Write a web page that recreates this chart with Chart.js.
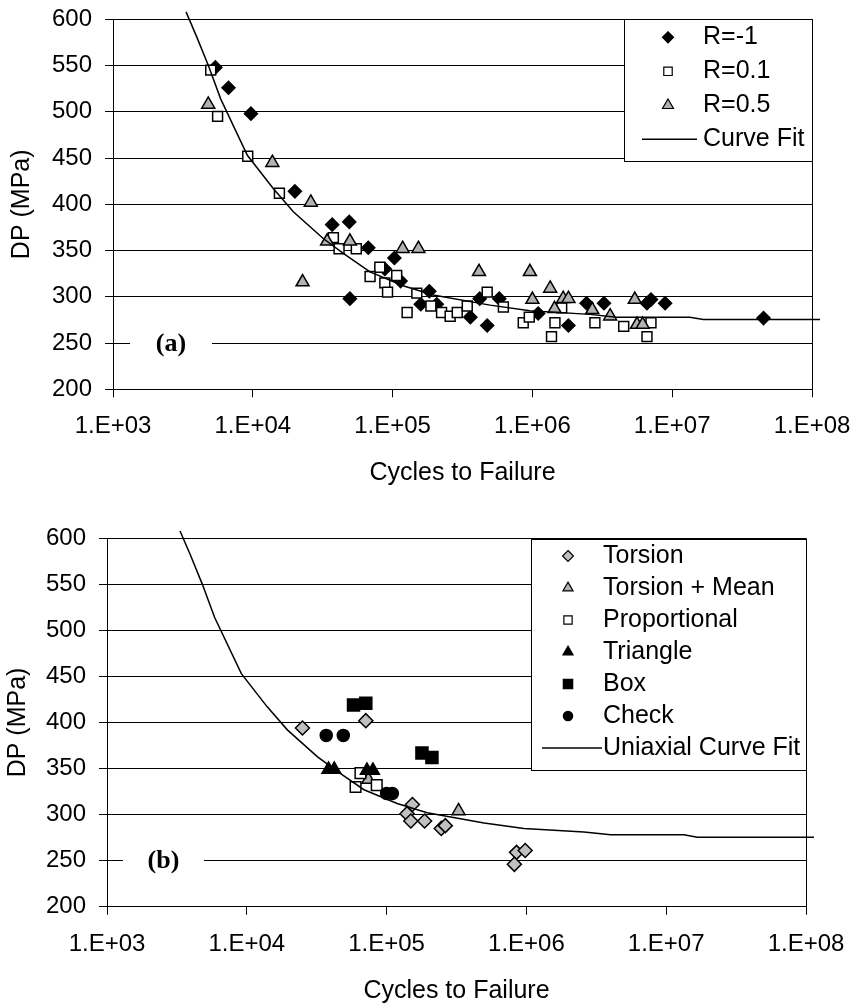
<!DOCTYPE html>
<html>
<head>
<meta charset="utf-8">
<script src="https://cdn.jsdelivr.net/npm/chart.js@4.4.1/dist/chart.umd.min.js"></script>
<style>
  html, body { margin: 0; padding: 0; background: #fff; overflow: hidden; }
  .panel { position: absolute; left: 0; width: 856px; }
  #top { top: 0; height: 500px; }
  #bottom { top: 519px; height: 487px; }
</style>
</head>
<body>
<div class="panel" id="top"><canvas id="chartA"></canvas></div>
<div class="panel" id="bottom"><canvas id="chartB"></canvas></div>
<script>
// --- values: N = cycles to failure, DP in MPa ---
const xTicks = [1e3, 1e4, 1e5, 1e6, 1e7, 1e8];

// (a) uniaxial tests
const rm1N  = [5.4e3, 6.7e3, 9.7e3, 2.0e4, 3.7e4, 4.9e4, 6.7e4, 1.03e5, 8.8e4, 1.14e5, 4.95e4, 1.83e5, 1.59e5,
               2.07e5, 3.6e5, 4.75e5, 4.2e5, 5.8e5, 1.10e6, 1.81e6, 2.44e6, 3.25e6, 6.6e6, 7.05e6, 8.9e6, 4.5e7];
const rm1DP = [548, 526, 498, 414, 378, 381, 353, 342, 330, 317, 298, 306, 292,
               292, 278, 269, 298, 298, 282, 269, 293, 293, 293, 297, 293, 277];

const r01N  = [5.0e3, 5.6e3, 9.2e3, 1.55e4, 3.77e4, 4.14e4, 5.5e4, 8.1e4, 6.9e4, 1.07e5, 8.8e4, 9.2e4, 1.49e5, 1.27e5,
               1.88e5, 2.24e5, 2.58e5, 2.9e5, 3.42e5, 4.75e5, 6.2e5, 8.6e5, 9.5e5, 1.37e6, 1.45e6, 1.62e6, 2.8e6,
               4.5e6, 6.6e6, 7.05e6];
const r01DP = [545, 495, 452, 412, 364, 352, 352, 332, 322, 323, 315, 305, 304, 283,
               290, 283, 279, 283, 290, 305, 289, 272, 278, 257, 272, 288, 272,
               268, 257, 272];

const r05N  = [4.8e3, 1.38e4, 2.6e4, 3.4e4, 4.95e4, 1.18e5, 1.53e5, 2.27e4, 4.15e5, 9.6e5, 1.34e6, 1.0e6, 1.66e6,
               1.81e6, 1.44e6, 2.68e6, 3.6e6, 5.4e6, 5.6e6, 6.15e6];
const r05DP = [508, 445, 402, 360, 360, 352, 352, 316, 327, 327, 309, 297, 298,
               298, 287, 286, 279, 297, 270, 270];

// uniaxial curve fit (same curve in both panels)
const fitN  = [3.33e3, 3.97e3, 4.81e3, 5.89e3, 9.14e3, 1.40e4, 1.95e4, 3.19e4, 4.44e4, 6.89e4, 1.19e5, 1.95e5,
               4.98e5, 9.6e5, 2.58e6, 4.0e6, 1.34e7, 1.67e7, 1.14e8];
const fitDP = [608, 581, 550, 514, 453, 417, 392, 363, 347, 327, 312, 302,
               291, 285, 281, 278, 278, 275.5, 275.5];

// (b) multiaxial tests
const torN   = [2.5e4, 7.1e4, 1.53e5, 1.40e5, 1.49e5, 1.87e5, 2.46e5, 2.63e5, 8.5e5, 9.8e5, 8.2e5];
const torDP  = [394, 402, 311, 301, 293, 293, 285, 288, 259, 261, 246];
const torMN  = [7.4e4, 3.27e5];
const torMDP = [338, 304];
const propN  = [6.5e4, 6.0e4, 8.5e4];
const propDP = [345, 330, 332];
const triN   = [3.84e4, 4.22e4, 7.23e4, 7.98e4];
const triDP  = [349, 349, 348, 348];
const boxN   = [5.8e4, 7.1e4, 1.79e5, 2.11e5];
const boxDP  = [419, 421, 367, 362];
const chkN   = [3.7e4, 4.9e4, 1.0e5, 1.1e5];
const chkDP  = [386, 386, 323, 323];

const pairs = (xs, ys) => xs.map((x, i) => ({ x, y: ys[i] }));

Chart.defaults.font.family = '"Liberation Sans", Arial, sans-serif';
Chart.defaults.color = '#000';

function drawMarker(ctx, style, x, y, r) {
  ctx.beginPath();
  if (style === 'rectRot') {
    ctx.moveTo(x, y - r); ctx.lineTo(x + r, y); ctx.lineTo(x, y + r); ctx.lineTo(x - r, y); ctx.closePath();
  } else if (style === 'rect') {
    const s = r * Math.SQRT1_2;
    ctx.rect(x - s, y - s, 2 * s, 2 * s);
  } else if (style === 'triangle') {
    for (let k = 0; k < 3; k++) {
      const a = k * 2 * Math.PI / 3;
      const px = x + Math.sin(a) * r, py = y - Math.cos(a) * r;
      k ? ctx.lineTo(px, py) : ctx.moveTo(px, py);
    }
    ctx.closePath();
  } else {
    ctx.arc(x, y, r, 0, Math.PI * 2);
  }
  ctx.fill();
  ctx.stroke();
}

// right edge of the plot frame
const frame = {
  id: 'frame',
  beforeDatasetsDraw(chart) {
    const { ctx, chartArea: a } = chart;
    const x = Math.round(a.right) + 0.5;
    ctx.save();
    ctx.strokeStyle = '#000';
    ctx.lineWidth = 1;
    ctx.beginPath();
    ctx.moveTo(x, a.top);
    ctx.lineTo(x, a.bottom);
    ctx.stroke();
    ctx.restore();
  }
};

// "(a)" / "(b)" tag sitting on the 250 gridline
const panelTag = {
  id: 'panelTag',
  afterDatasetsDraw(chart, args, o) {
    const ctx = chart.ctx;
    const y = chart.scales.y.getPixelForValue(250);
    ctx.save();
    ctx.fillStyle = '#fff';
    ctx.fillRect(o.x0, y - 16, o.x1 - o.x0, 32);
    ctx.font = 'bold 26px "Liberation Serif", "Times New Roman", serif';
    ctx.textAlign = 'center';
    ctx.textBaseline = 'middle';
    ctx.fillStyle = '#000';
    ctx.fillText(o.text, (o.x0 + o.x1) / 2, y + 1);
    ctx.restore();
  }
};

// boxed legend inside the plot, top right
const boxLegend = {
  id: 'boxLegend',
  afterDraw(chart, args, o) {
    const ctx = chart.ctx;
    ctx.save();
    ctx.fillStyle = '#fff';
    ctx.fillRect(o.x, o.y, o.w, o.h);
    ctx.strokeStyle = '#000';
    ctx.lineWidth = 1;
    ctx.strokeRect(Math.round(o.x) + 0.5, Math.round(o.y) + 0.5, o.w, o.h);
    ctx.font = '25px "Liberation Sans", Arial, sans-serif';
    ctx.textBaseline = 'middle';
    chart.data.datasets.forEach((ds, i) => {
      const y = o.first + i * o.rowH;
      ctx.strokeStyle = '#000';
      if (ds.showLine) {
        ctx.lineWidth = 1.5;
        ctx.beginPath();
        ctx.moveTo(o.lineX0, y);
        ctx.lineTo(o.lineX1, y);
        ctx.stroke();
      } else {
        ctx.fillStyle = ds.backgroundColor;
        ctx.lineWidth = 1.2;
        drawMarker(ctx, ds.pointStyle, o.markerX, y, ds.pointRadius * o.scale);
      }
      ctx.fillStyle = '#000';
      ctx.fillText(ds.label, o.textX, y);
    });
    ctx.restore();
  }
};

function markers(label, data, style, r, fill, order) {
  return {
    label, data, order,
    pointStyle: style, pointRadius: r, pointHoverRadius: r,
    backgroundColor: fill, borderColor: '#000', borderWidth: 1.5, showLine: false
  };
}

function curve(label, data) {
  return {
    label, data, order: 0,
    showLine: true, pointRadius: 0, borderColor: '#000', borderWidth: 1.5,
    tension: 0, fill: false, clip: false
  };
}

// keep the plot box exactly where the layout says
function pinScale(s, size) {
  if (s.isHorizontal()) s.height = size; else s.width = size;
  s.paddingTop = s.paddingBottom = s.paddingLeft = s.paddingRight = 0;
}

function makeChart(id, datasets, L) {
  return new Chart(document.getElementById(id), {
    type: 'scatter',
    data: { datasets },
    options: {
      responsive: true,
      maintainAspectRatio: false,
      animation: false,
      events: [],
      layout: { padding: { top: L.top, right: L.right, left: 0, bottom: 0 } },
      plugins: {
        legend: { display: false },
        tooltip: { enabled: false },
        boxLegend: L.legend,
        panelTag: L.tag
      },
      scales: {
        x: {
          type: 'logarithmic',
          min: 1e3,
          max: 1e8,
          afterBuildTicks: s => { s.ticks = xTicks.map(v => ({ value: v })); },
          afterFit: s => pinScale(s, L.xH),
          ticks: {
            font: { size: 24 }, padding: 15, maxRotation: 0, autoSkip: false,
            callback: v => '1.E+' + String(Math.round(Math.log10(v))).padStart(2, '0')
          },
          grid: { drawOnChartArea: false, tickLength: 8, color: '#000' },
          border: { color: '#000' },
          title: { display: true, text: 'Cycles to Failure', font: { size: 25 }, padding: { top: 0, bottom: L.xTitlePad } }
        },
        y: {
          min: 200,
          max: 600,
          afterFit: s => pinScale(s, L.yW),
          ticks: { stepSize: 50, font: { size: 24 }, padding: 13 },
          grid: { color: '#000', tickLength: 8 },
          border: { color: '#000' },
          title: { display: true, text: 'DP (MPa)', font: { size: 25 }, padding: { top: L.yTitlePad, bottom: 0 } }
        }
      }
    },
    plugins: [frame, panelTag, boxLegend]
  });
}

makeChart('chartA', [
  markers('R=-1', pairs(rm1N, rm1DP), 'rectRot', 6.5, '#000', 3),
  markers('R=0.1', pairs(r01N, r01DP), 'rect', 7, '#fff', 2),
  markers('R=0.5', pairs(r05N, r05DP), 'triangle', 7.5, '#b2b2b2', 1),
  curve('Curve Fit', pairs(fitN, fitDP))
], {
  top: 19.3, right: 44, xH: 110.7, yW: 113, xTitlePad: 12, yTitlePad: 7,
  legend: { x: 624, y: 19, w: 188, h: 142, first: 37.3, rowH: 34, markerX: 668, textX: 703, lineX0: 642, lineX1: 697, scale: 0.85 },
  tag: { text: '(a)', x0: 130, x1: 212 }
});

makeChart('chartB', [
  markers('Torsion', pairs(torN, torDP), 'rectRot', 7, '#c0c0c0', 6),
  markers('Torsion + Mean', pairs(torMN, torMDP), 'triangle', 7.5, '#b2b2b2', 5),
  markers('Proportional', pairs(propN, propDP), 'rect', 7.5, '#fff', 4),
  markers('Triangle', pairs(triN, triDP), 'triangle', 7.5, '#000', 3),
  markers('Box', pairs(boxN, boxDP), 'rect', 8.5, '#000', 2),
  markers('Check', pairs(chkN, chkDP), 'circle', 6, '#000', 1),
  curve('Uniaxial Curve Fit', pairs(fitN, fitDP))
], {
  top: 19.3, right: 50, xH: 99.3, yW: 107, xTitlePad: 0, yTitlePad: 3,
  legend: { x: 531, y: 20, w: 275, h: 231, first: 37, rowH: 32, markerX: 568, textX: 603, lineX0: 542, lineX1: 602, scale: 0.78 },
  tag: { text: '(b)', x0: 123, x1: 204 }
});
</script>
</body>
</html>
